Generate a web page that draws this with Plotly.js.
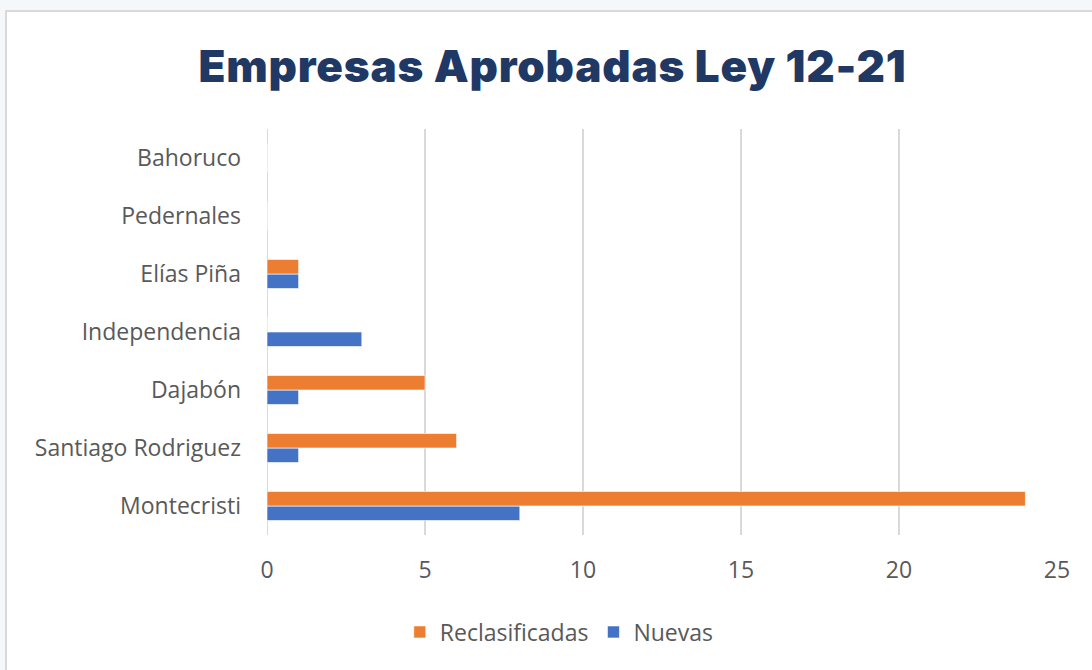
<!DOCTYPE html>
<html>
<head>
<meta charset="utf-8">
<script src="https://cdn.plot.ly/plotly-3.0.1.min.js"></script>
<style>
  html, body { margin: 0; padding: 0; width: 1092px; height: 670px; overflow: hidden; background: #f4f8fb; }
  #frame { position: absolute; left: 5px; top: 10px; right: 0; bottom: 0; background: #ffffff;
           border-left: 2px solid #d9d9d9; border-top: 2px solid #d9d9d9; }
  #chart { position: absolute; left: 0; top: 0; width: 1092px; height: 670px; }
  #chart .gtitle { letter-spacing: 0.8px; }
</style>
</head>
<body>
<div id="frame"></div>
<div id="chart"></div>
<script>
const categories = ["Montecristi", "Santiago Rodriguez", "Dajabón", "Independencia", "Elías Piña", "Pedernales", "Bahoruco"];
const nuevas = [8, 1, 1, 3, 1, 0, 0];
const reclasificadas = [24, 6, 5, 0, 1, 0, 0];
const xTicks = [0, 5, 10, 15, 20, 25];

const labelFont = { family: "'Open Sans', 'Noto Sans', sans-serif", size: 23, color: "#595959" };

const traces = [
  { type: "bar", orientation: "h", name: "Nuevas", y: categories, x: nuevas,
    marker: { color: "#4472C4", line: { color: "rgba(255,255,255,0.6)", width: 1 } }, hoverinfo: "x+y+name" },
  { type: "bar", orientation: "h", name: "Reclasificadas", y: categories, x: reclasificadas,
    marker: { color: "#ED7D31", line: { color: "rgba(255,255,255,0.6)", width: 1 } }, hoverinfo: "x+y+name" }
];

const layout = {
  width: 1092, height: 670,
  paper_bgcolor: "rgba(0,0,0,0)", plot_bgcolor: "rgba(0,0,0,0)",
  margin: { l: 267, r: 35, t: 129, b: 135 },
  barmode: "group", bargap: 0.5, bargroupgap: 0,
  title: { text: "Empresas Aprobadas Ley 12-21", xref: "container", yref: "container",
           x: 0.506, y: 0.9, xanchor: "center", yanchor: "middle",
           font: { family: "Inter, 'Open Sans', sans-serif", size: 44, color: "#1F3864", weight: 900 } },
  xaxis: { range: [0, 25], tickvals: xTicks, ticktext: xTicks.map(String), showgrid: true,
           gridcolor: "#d9d9d9", gridwidth: 2, zeroline: false, showline: false,
           tickfont: labelFont, ticks: "", ticklabelstandoff: 19, fixedrange: true },
  yaxis: { type: "category", categoryorder: "array", categoryarray: categories,
           range: [-0.5, categories.length - 0.5], showgrid: false, zeroline: false, showline: false,
           tickfont: labelFont, ticks: "", ticklabelstandoff: 25, fixedrange: true },
  legend: { orientation: "h", x: 0.37, xanchor: "center", y: -0.239, yanchor: "middle",
            traceorder: "reversed", font: labelFont, itemwidth: 30 },
  shapes: [
    { type: "line", xref: "x", yref: "paper", x0: 0, x1: 0, y0: 0, y1: 1,
      line: { color: "#d9d9d9", width: 2 }, layer: "below" }
  ]
};

Plotly.newPlot("chart", traces, layout, { displayModeBar: false, staticPlot: false });
</script>
</body>
</html>
